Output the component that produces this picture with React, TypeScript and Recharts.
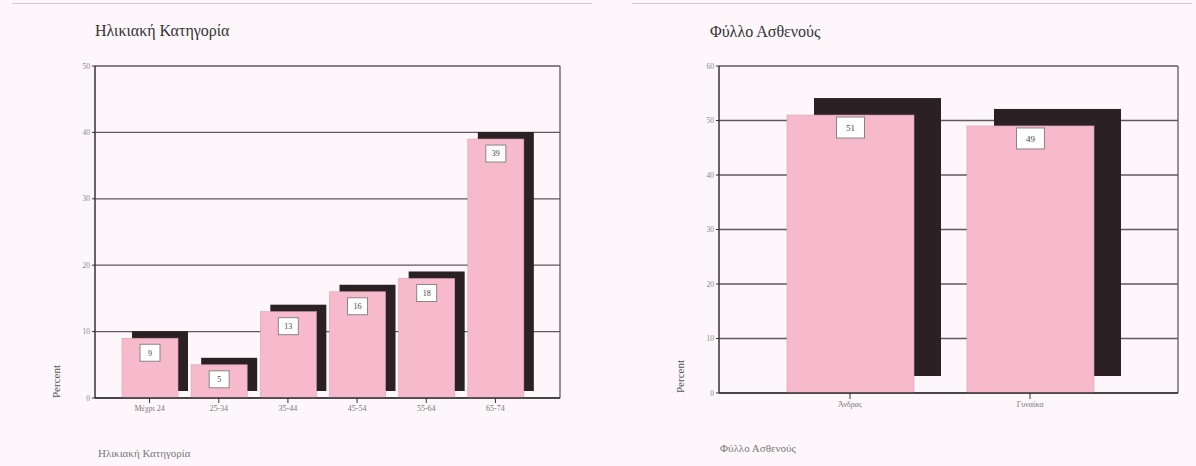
import { BarChart, Bar, XAxis, YAxis, CartesianGrid, LabelList } from 'recharts';

const ageGroups = ['Μέχρι 24', '25-34', '35-44', '45-54', '55-64', '65-74'];
const agePercent = [9, 5, 13, 16, 18, 39];
const ageTicks = [0, 10, 20, 30, 40, 50];

const genders = ['Άνδρας', 'Γυναίκα'];
const genderPercent = [51, 49];
const genderTicks = [0, 10, 20, 30, 40, 50, 60];

const ageData = ageGroups.map((name, i) => ({ name, value: agePercent[i] }));
const genderData = genders.map((name, i) => ({ name, value: genderPercent[i] }));

const FONT = '"Liberation Serif", "DejaVu Serif", serif';
const PINK = '#f7bacc';
const SHADOW = '#2b2024';
const GRID = '#5f5a5d';
const BG = '#fdf7fb';

// bar drawn with a dark drop shadow pushed up and to the right
function shadowBar(dx: number, dy: number) {
  return (props: any) => {
    const { x, y, width, height } = props;
    return (
      <g>
        <rect x={x + dx} y={y - dy} width={width} height={height} fill={SHADOW} />
        <rect x={x} y={y} width={width} height={height} fill={PINK} stroke="#dba0b3" strokeWidth={0.6} />
      </g>
    );
  };
}

function boxLabel(bw: number, bh: number, gap: number, fs: number) {
  return (props: any) => {
    const vb = props.viewBox || props;
    const cx = vb.x + vb.width / 2;
    const top = vb.y + gap;
    return (
      <g>
        <rect x={cx - bw / 2} y={top} width={bw} height={bh} fill="#ffffff" stroke="#8a8486" strokeWidth={1} />
        <text x={cx} y={top + bh / 2 + fs * 0.35} textAnchor="middle" fontSize={fs} fill="#444" fontFamily={FONT}>
          {props.value}
        </text>
      </g>
    );
  };
}

function percentLabel(props: any) {
  const vb = props.viewBox;
  const x = vb.x + vb.width - 35;
  const y = vb.y + vb.height;
  return (
    <text x={x} y={y} transform={`rotate(-90 ${x} ${y})`} fontSize={11} fill="#555" fontFamily={FONT}>
      Percent
    </text>
  );
}

// right edge of the plot frame
const rightEdge = ({ offset }: any) => [offset.left + offset.width];

const tickStyle = { fontSize: 7.5, fill: '#8a8588', fontFamily: FONT };
const catStyle = { fontSize: 8, fill: '#777', fontFamily: FONT };

export default function App() {
  return (
    <div style={{ position: 'absolute', left: 0, top: 0, width: 1196, height: 466, background: BG, overflow: 'hidden', fontFamily: FONT }}>
      <div style={{ position: 'absolute', left: 12, top: 3, width: 580, height: 1, background: '#cfcacd' }} />
      <div style={{ position: 'absolute', left: 632, top: 3, width: 560, height: 1, background: '#cfcacd' }} />

      <div style={{ position: 'absolute', left: 95, top: 22, fontSize: 16, color: '#333' }}>Ηλικιακή Κατηγορία</div>
      <div style={{ position: 'absolute', left: 710, top: 23, fontSize: 16, color: '#333' }}>Φύλλο Ασθενούς</div>
      <div style={{ position: 'absolute', left: 98, top: 447, fontSize: 11, color: '#777' }}>Ηλικιακή Κατηγορία</div>
      <div style={{ position: 'absolute', left: 720, top: 442, fontSize: 11, color: '#777' }}>Φύλλο Ασθενούς</div>

      <div style={{ position: 'absolute', left: 0, top: 0 }}>
        <BarChart width={600} height={466} data={ageData} margin={{ top: 66, right: 40, bottom: 38, left: 65 }}>
          <CartesianGrid
            stroke={GRID}
            strokeWidth={1.3}
            vertical
            verticalCoordinatesGenerator={rightEdge}
          />
          <XAxis
            dataKey="name"
            padding={{ left: 20, right: 30 }}
            tick={catStyle}
            tickSize={5}
            tickLine={{ stroke: '#333' }}
            axisLine={{ stroke: '#333', strokeWidth: 1.5 }}
            height={30}
            interval={0}
          />
          <YAxis
            domain={[0, 50]}
            ticks={ageTicks}
            width={30}
            tick={tickStyle}
            tickSize={3}
            tickLine={{ stroke: '#333' }}
            axisLine={{ stroke: '#333', strokeWidth: 1.5 }}
            label={percentLabel}
          />
          <Bar dataKey="value" barSize={56} isAnimationActive={false} shape={shadowBar(10, 7)}>
            <LabelList dataKey="value" content={boxLabel(20, 17, 6, 8)} />
          </Bar>
        </BarChart>
      </div>

      <div style={{ position: 'absolute', left: 600, top: 0 }}>
        <BarChart width={596} height={466} data={genderData} margin={{ top: 66, right: 18, bottom: 43, left: 89 }}>
          <CartesianGrid
            stroke={GRID}
            strokeWidth={1.3}
            vertical
            verticalCoordinatesGenerator={rightEdge}
          />
          <XAxis
            dataKey="name"
            padding={{ left: 41, right: 58 }}
            tick={catStyle}
            tickSize={6}
            tickLine={{ stroke: '#333' }}
            axisLine={{ stroke: '#333', strokeWidth: 1.5 }}
            height={30}
            interval={0}
          />
          <YAxis
            domain={[0, 60]}
            ticks={genderTicks}
            width={30}
            tick={tickStyle}
            tickSize={3}
            tickLine={{ stroke: '#333' }}
            axisLine={{ stroke: '#333', strokeWidth: 1.5 }}
            label={percentLabel}
          />
          <Bar dataKey="value" barSize={127} isAnimationActive={false} shape={shadowBar(27, 17)}>
            <LabelList dataKey="value" content={boxLabel(28, 21, 2, 9)} />
          </Bar>
        </BarChart>
      </div>
    </div>
  );
}
